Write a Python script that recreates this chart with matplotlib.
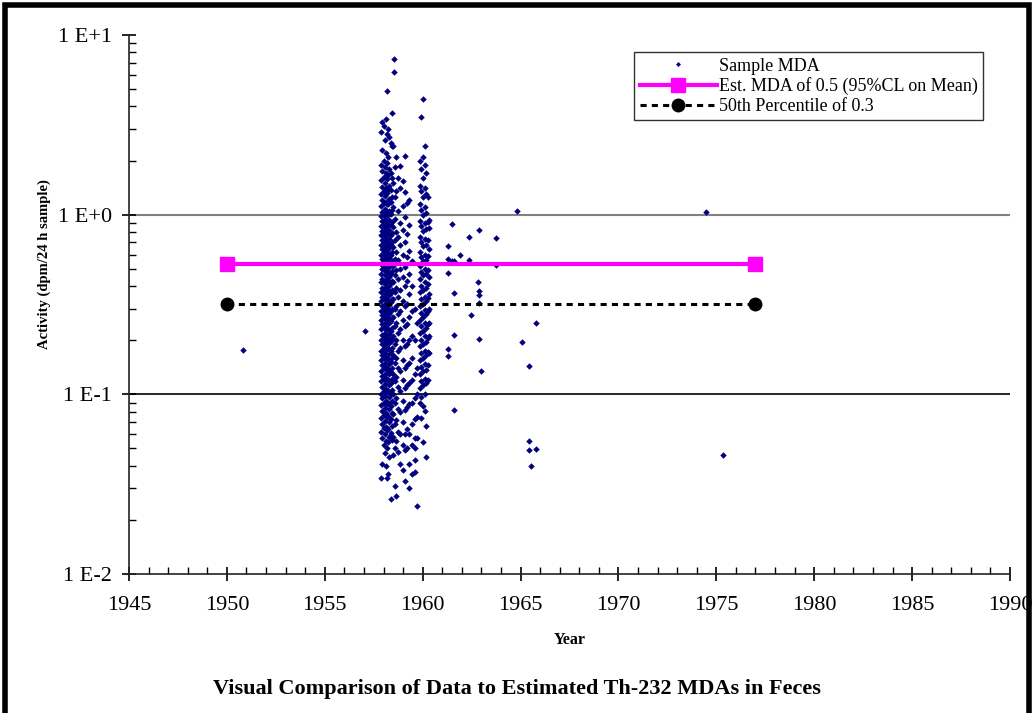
import numpy as np
import matplotlib.pyplot as plt
from matplotlib.patches import Rectangle
from matplotlib.ticker import FixedLocator, FixedFormatter, MultipleLocator, NullFormatter

plt.rcParams['font.family'] = ['Liberation Serif', 'DejaVu Serif']

# main cluster (1958), vertical strips: year -> sample values
a_years = [1957.88, 1957.94, 1958.00, 1958.06, 1958.12, 1958.18, 1958.24, 1958.30, 1958.36, 1958.42]
a_values = [
    [2.9, 1.9, 1.55, 1.3, 1.12, 0.98, 0.86, 0.77, 0.68, 0.6, 0.53, 0.47, 0.42, 0.37, 0.33, 0.29, 0.26, 0.23, 0.2, 0.175, 0.155, 0.135, 0.118, 0.1, 0.087, 0.074, 0.062, 0.034],
    [3.3, 2.3, 1.75, 1.42, 1.2, 1.04, 0.92, 0.81, 0.72, 0.64, 0.57, 0.5, 0.44, 0.39, 0.35, 0.31, 0.275, 0.245, 0.215, 0.19, 0.165, 0.145, 0.127, 0.11, 0.095, 0.081, 0.068, 0.057, 0.041],
    [3.1, 2.0, 1.62, 1.35, 1.16, 1.0, 0.89, 0.79, 0.7, 0.62, 0.55, 0.49, 0.43, 0.385, 0.34, 0.3, 0.265, 0.235, 0.205, 0.18, 0.16, 0.14, 0.122, 0.105, 0.09, 0.077, 0.065, 0.052],
    [2.6, 1.85, 1.5, 1.27, 1.08, 0.95, 0.84, 0.75, 0.66, 0.59, 0.52, 0.46, 0.41, 0.36, 0.32, 0.285, 0.25, 0.22, 0.195, 0.17, 0.15, 0.13, 0.114, 0.098, 0.084, 0.071, 0.06, 0.047],
    [3.4, 2.2, 1.7, 1.4, 1.18, 1.02, 0.9, 0.8, 0.71, 0.63, 0.56, 0.495, 0.435, 0.39, 0.345, 0.305, 0.27, 0.24, 0.21, 0.185, 0.162, 0.142, 0.124, 0.107, 0.092, 0.079, 0.066, 0.055, 0.04],
    [4.86, 2.8, 1.95, 1.58, 1.32, 1.14, 0.99, 0.87, 0.78, 0.69, 0.61, 0.54, 0.48, 0.425, 0.375, 0.335, 0.295, 0.26, 0.23, 0.2, 0.178, 0.157, 0.137, 0.12, 0.103, 0.088, 0.075, 0.063, 0.05, 0.034],
    [3.0, 2.1, 1.66, 1.37, 1.15, 1.0, 0.88, 0.78, 0.69, 0.61, 0.545, 0.48, 0.425, 0.38, 0.335, 0.3, 0.265, 0.232, 0.205, 0.18, 0.158, 0.138, 0.12, 0.104, 0.089, 0.076, 0.064, 0.054, 0.036],
    [2.7, 1.8, 1.45, 1.22, 1.05, 0.93, 0.82, 0.73, 0.65, 0.575, 0.51, 0.45, 0.4, 0.355, 0.315, 0.28, 0.248, 0.218, 0.192, 0.168, 0.148, 0.13, 0.112, 0.097, 0.083, 0.07, 0.058, 0.045],
    [2.5, 1.7, 1.38, 1.17, 1.01, 0.88, 0.77, 0.68, 0.6, 0.53, 0.47, 0.415, 0.365, 0.325, 0.29, 0.255, 0.225, 0.198, 0.174, 0.152, 0.133, 0.116, 0.1, 0.086, 0.073, 0.061, 0.026],
    [3.7, 2.4, 1.6, 1.25, 1.06, 0.91, 0.79, 0.7, 0.62, 0.55, 0.485, 0.43, 0.38, 0.34, 0.3, 0.265, 0.234, 0.207, 0.182, 0.16, 0.14, 0.122, 0.106, 0.092, 0.079, 0.067, 0.056],
]

# 1959 spread
b_years = [1958.50, 1958.58, 1958.66, 1958.76, 1958.86, 1958.97, 1959.08, 1959.20, 1959.32, 1959.45, 1959.60, 1959.72]
b_values = [
    [2.4, 1.5, 1.1, 0.85, 0.66, 0.52, 0.42, 0.34, 0.27, 0.21, 0.165, 0.13, 0.1, 0.078, 0.058, 0.046],
    [1.85, 1.25, 0.95, 0.72, 0.57, 0.46, 0.37, 0.3, 0.24, 0.19, 0.15, 0.118, 0.09, 0.068, 0.05, 0.031],
    [2.1, 1.35, 0.8, 0.62, 0.49, 0.39, 0.31, 0.25, 0.2, 0.16, 0.125, 0.095, 0.072, 0.055, 0.027],
    [1.6, 1.05, 0.75, 0.56, 0.44, 0.35, 0.28, 0.22, 0.175, 0.14, 0.11, 0.083, 0.062, 0.048],
    [1.87, 1.4, 0.9, 0.68, 0.5, 0.38, 0.29, 0.23, 0.18, 0.135, 0.105, 0.08, 0.06, 0.041],
    [1.53, 1.12, 0.82, 0.6, 0.45, 0.33, 0.26, 0.2, 0.155, 0.12, 0.092, 0.07, 0.052, 0.038],
    [2.13, 1.34, 0.97, 0.7, 0.51, 0.4, 0.31, 0.24, 0.185, 0.14, 0.108, 0.082, 0.06, 0.049, 0.033],
    [1.16, 0.78, 0.58, 0.43, 0.32, 0.245, 0.19, 0.145, 0.112, 0.085, 0.064, 0.05],
    [1.21, 0.88, 0.63, 0.47, 0.36, 0.27, 0.2, 0.15, 0.115, 0.088, 0.06, 0.041, 0.03],
    [0.55, 0.4, 0.29, 0.21, 0.16, 0.12, 0.09, 0.068, 0.052, 0.036],
    [0.3, 0.2, 0.13, 0.095, 0.073, 0.057, 0.05, 0.043, 0.037],
    [0.25, 0.14, 0.1, 0.075, 0.057, 0.024],
]

# 1960 cluster
c_years = [1959.86, 1959.94, 1960.02, 1960.10, 1960.18, 1960.26, 1960.34]
c_values = [
    [2.0, 1.45, 1.15, 0.92, 0.75, 0.62, 0.52, 0.44, 0.37, 0.31, 0.26, 0.22, 0.185, 0.155, 0.13, 0.108, 0.09],
    [3.5, 1.8, 1.35, 1.06, 0.86, 0.7, 0.58, 0.48, 0.4, 0.34, 0.285, 0.24, 0.2, 0.17, 0.142, 0.118, 0.097, 0.074],
    [4.4, 2.1, 1.6, 1.25, 1.0, 0.81, 0.67, 0.55, 0.46, 0.38, 0.32, 0.27, 0.225, 0.19, 0.16, 0.134, 0.112, 0.086, 0.054],
    [2.4, 1.9, 1.4, 1.1, 0.9, 0.73, 0.6, 0.5, 0.42, 0.35, 0.295, 0.25, 0.21, 0.175, 0.147, 0.122, 0.1, 0.081],
    [1.7, 1.3, 1.02, 0.83, 0.68, 0.56, 0.47, 0.39, 0.33, 0.28, 0.235, 0.195, 0.165, 0.137, 0.115, 0.067, 0.045],
    [1.25, 0.91, 0.72, 0.59, 0.49, 0.41, 0.345, 0.29, 0.245, 0.205, 0.172, 0.145, 0.12],
    [0.93, 0.84, 0.64, 0.45, 0.36, 0.3, 0.25, 0.21, 0.17],
]

# isolated samples
sparse_years = [1950.82, 1957.04, 1958.52, 1958.52, 1961.50, 1962.88, 1962.35, 1963.73, 1961.29, 1961.92,
                1961.29, 1961.50, 1961.58, 1962.35, 1963.73, 1961.29, 1962.85, 1962.90, 1962.90, 1961.58,
                1962.89, 1962.47, 1965.80, 1961.58, 1962.89, 1965.05, 1961.29, 1961.29, 1965.44, 1962.96,
                1961.58, 1965.44, 1965.44, 1965.80, 1965.53, 1975.35, 1964.80, 1974.47]
sparse_values = [0.176, 0.226, 7.35, 6.22, 0.887, 0.822, 0.755, 0.74, 0.672, 0.594,
                 0.565, 0.555, 0.55, 0.557, 0.523, 0.474, 0.422, 0.375, 0.356, 0.368,
                 0.321, 0.277, 0.25, 0.213, 0.203, 0.195, 0.178, 0.164, 0.144, 0.134,
                 0.0816, 0.0548, 0.049, 0.0497, 0.0401, 0.046, 1.05, 1.04]

mda_years = [1950, 1977]
mda_est = [0.53, 0.53]
p50 = [0.32, 0.32]

xs, ys = [], []
for yrs, vals in [(a_years, a_values), (b_years, b_values), (c_years, c_values)]:
    for yr, v in zip(yrs, vals):
        xs += [yr] * len(v)
        ys += v
xs += sparse_years
ys += sparse_values

fig = plt.figure(figsize=(10.33, 7.13), dpi=100)
ax = fig.add_axes([0.1249, 0.195, 0.8528, 0.7559])

ax.plot(xs, ys, 'D', color='#000080', ms=3.3, mew=0, ls='none', label='Sample MDA', zorder=3)
ax.plot(mda_years, mda_est, '-s', color='#FF00FF', lw=3, ms=10, label='Est. MDA of 0.5 (95%CL on Mean)', zorder=4)
ax.plot(mda_years, p50, color='black', lw=2.2, ls=(0, (2, 1.7)), marker='o', ms=9,
        label='50th Percentile of 0.3', zorder=4)

ax.set_yscale('log')
ax.set_ylim(0.01, 10)
ax.set_xlim(1945, 1990)

ax.axhline(1, color='#808080', lw=1.5, zorder=1)
ax.axhline(0.1, color='black', lw=1.2, zorder=1)

for s in ['top', 'right']:
    ax.spines[s].set_visible(False)
for s in ['left', 'bottom']:
    ax.spines[s].set_linewidth(1.2)
    ax.spines[s].set_color('#222222')

ax.yaxis.set_major_locator(FixedLocator([0.01, 0.1, 1, 10]))
ax.yaxis.set_major_formatter(FixedFormatter(['1 E-2', '1 E-1', '1 E+0', '1 E+1']))
ax.xaxis.set_major_locator(MultipleLocator(5))
ax.xaxis.set_minor_locator(MultipleLocator(1))
ax.yaxis.set_minor_formatter(NullFormatter())
ax.tick_params(which='major', direction='inout', length=10, width=1.2, labelsize=16)
ax.tick_params(axis='y', which='major', pad=7)
ax.tick_params(axis='x', which='major', pad=11)
ax.tick_params(which='minor', direction='in', length=5, width=1)

ax.set_xlabel('Year', fontsize=11.5, fontweight='bold')
ax.xaxis.set_label_coords(0.5, -0.108)
ax.set_ylabel('Activity (dpm/24 h sample)', fontsize=10.5, fontweight='bold')
ax.yaxis.set_label_coords(-0.088, 0.575)

leg = ax.legend(loc='upper right', bbox_to_anchor=(0.98, 0.985), fontsize=13, frameon=True,
                fancybox=False, edgecolor='black', handlelength=4.3, borderpad=0.3,
                labelspacing=0.15, handletextpad=0.1, markerscale=1)
leg.get_frame().set_linewidth(1)
leg.legend_handles[0].set_markersize(2.5)

fig.text(0.5, 0.027, 'Visual Comparison of Data to Estimated Th-232 MDAs in Feces',
         ha='center', fontsize=16, fontweight='bold')

fig.patches.append(Rectangle((0.0053, -0.02), 0.9907, 1.0125, transform=fig.transFigure,
                             fill=False, lw=4, edgecolor='black'))

fig.savefig('out.png', dpi=100)
